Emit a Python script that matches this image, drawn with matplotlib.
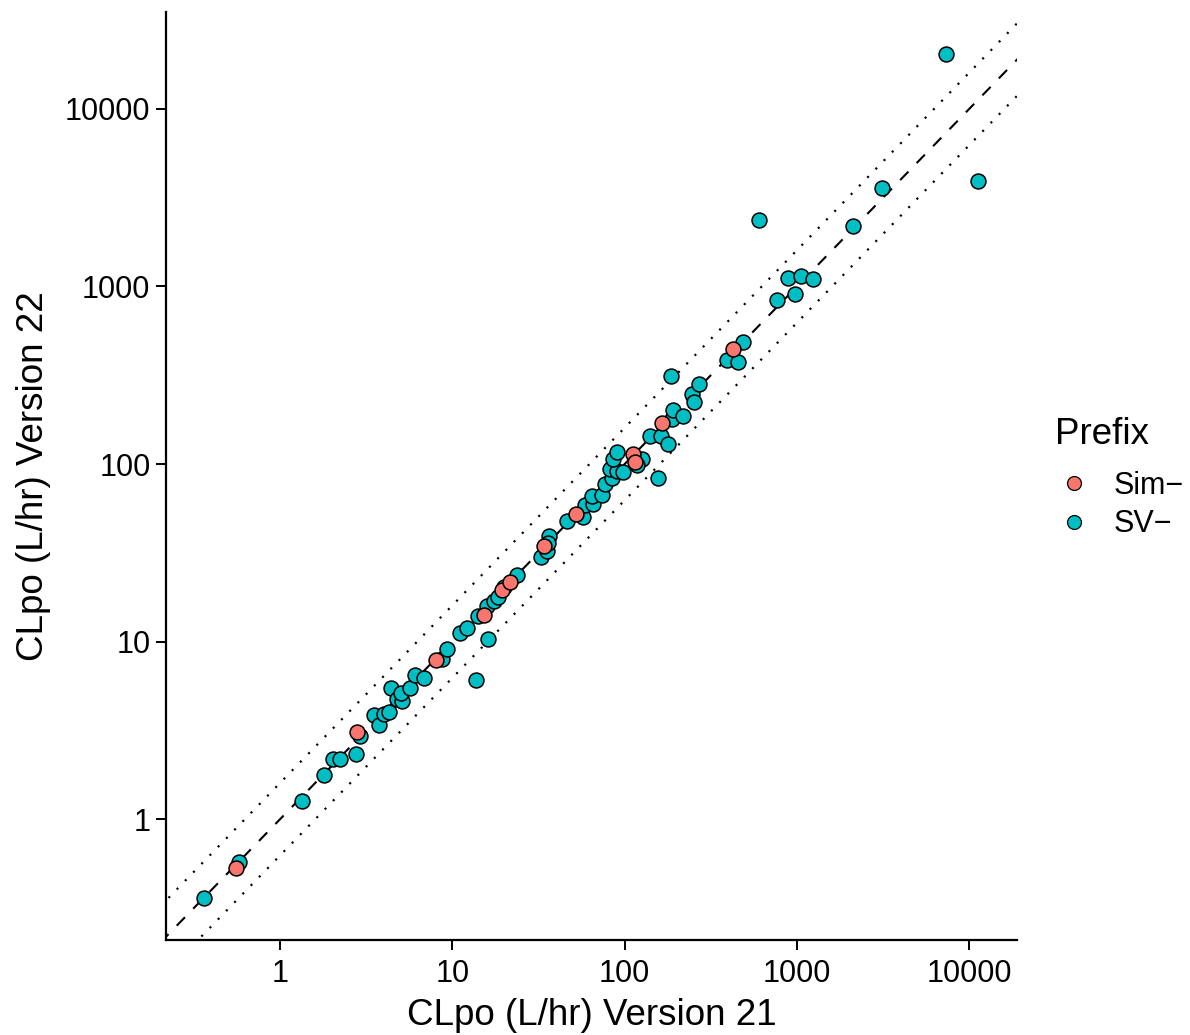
import numpy as np
import matplotlib
matplotlib.use("Agg")
import matplotlib.pyplot as plt
from matplotlib.lines import Line2D

plt.rcParams['font.family'] = ['Liberation Sans', 'DejaVu Sans']
plt.rcParams['lines.scale_dashes'] = False

# ---- data ----
sv_v21 = [0.364, 0.578, 1.333, 1.789, 2.039, 2.229, 2.772, 2.912, 3.513, 3.770,
          3.988, 4.292, 4.408, 4.776, 5.125, 5.038, 5.644, 6.041, 6.870, 8.68,
          9.28, 11.01, 12.12, 13.67, 14.05, 15.84, 16.05, 17.34, 18.30, 19.83,
          23.89, 32.72, 35.45, 36.41, 35.93, 46.0, 57.6, 58.9, 65.8, 64.4,
          73.9, 76.9, 84.2, 82.3, 90.0, 98.3, 86.0, 90.0, 125.7, 118.0,
          156.9, 140.4, 162.7, 179.3, 187.7, 190.2, 219.1, 185.2, 245.2, 252.9,
          271.4, 391.4, 453.3, 488.6, 605.1, 763.5, 891.6, 975.0, 1056, 1235,
          2125, 3106, 7305, 11290]
sv_v22 = [0.361, 0.578, 1.269, 1.784, 2.194, 2.194, 2.316, 2.954, 3.842, 3.393,
          3.928, 4.031, 5.478, 4.739, 4.647, 5.155, 5.486, 6.465, 6.219, 8.00,
          9.11, 11.21, 11.96, 6.12, 13.91, 15.83, 10.37, 16.85, 17.86, 20.24,
          23.74, 29.85, 32.51, 39.49, 35.93, 47.9, 50.3, 59.1, 59.5, 66.3,
          67.3, 77.1, 83.3, 93.6, 91.6, 89.7, 106.5, 116.2, 106.5, 98.6,
          83.1, 144.1, 144.1, 129.4, 178.8, 200.9, 185.9, 313.2, 249.5, 223.7,
          281.3, 385.2, 375.3, 486.3, 2358, 834.2, 1119, 901.6, 1143, 1105,
          2203, 3587, 20330, 3944]
sim_v21 = [0.559, 2.787, 7.99, 15.28, 19.43, 21.62, 34.06, 52.2, 112.3, 114.9, 164.2, 424.0]
sim_v22 = [0.532, 3.100, 7.93, 14.15, 19.55, 21.60, 34.69, 52.5, 113.7, 102.1, 169.8, 442.4]

groups = ["Sim\u2212", "SV\u2212"]
colors = ["#F8766D", "#00BFC4"]
ticks = [1, 10, 100, 1000, 10000]
tick_labels = ["1", "10", "100", "1000", "10000"]
band = 1.6

W, H = 1190, 1035
fig = plt.figure(figsize=(W / 100, H / 100), dpi=100)
ax = fig.add_axes([165.7 / W, 1 - 940 / H, (1017 - 165.7) / W, (940 - 12) / H])

allx = np.log10(sv_v21 + sim_v21)
ally = np.log10(sv_v22 + sim_v22)
def lims(v):
    lo, hi = v.min(), v.max()
    r = hi - lo
    return 10 ** (lo - 0.05 * r), 10 ** (hi + 0.05 * r)
xl = lims(allx)
yl = lims(ally)

ax.set_xscale('log')
ax.set_yscale('log')
ax.set_xlim(*xl)
ax.set_ylim(*yl)

lx = np.array([min(xl[0], yl[0]) / 2, max(xl[1], yl[1]) * 2])
ax.plot(lx, lx, color='black', lw=1.5, ls=(0, (8.5, 8.5)), zorder=1)
ax.plot(lx, lx * band, color='black', lw=1.6, ls=(0, (1.5, 7.0)), zorder=1)
ax.plot(lx, lx / band, color='black', lw=1.6, ls=(0, (1.5, 7.0)), zorder=1)

ms = 115
ax.scatter(sv_v21, sv_v22, s=ms, c=colors[1], edgecolors='black', linewidths=1.1, zorder=3)
ax.scatter(sim_v21, sim_v22, s=ms, c=colors[0], edgecolors='black', linewidths=1.1, zorder=4)

ax.set_xticks(ticks)
ax.set_xticklabels(tick_labels)
ax.set_yticks(ticks)
ax.set_yticklabels(tick_labels)
ax.minorticks_off()
ax.tick_params(axis='both', which='major', length=7, width=1.4, color='black',
               labelsize=22, labelcolor='black', pad=4)
ax.tick_params(axis='x', pad=7)
for s in ['top', 'right']:
    ax.spines[s].set_visible(False)
for s in ['left', 'bottom']:
    ax.spines[s].set_linewidth(1.6)
    ax.spines[s].set_color('black')

ax.set_xlabel("CLpo (L/hr) Version 21", fontsize=26.5, labelpad=6)
ax.set_ylabel("CLpo (L/hr) Version 22", fontsize=26.5, labelpad=10)

handles = [Line2D([], [], marker='o', ls='', markersize=10, markerfacecolor=c,
                  markeredgecolor='black', markeredgewidth=0.9) for c in colors]
leg = fig.legend(handles, groups, title="Prefix", loc='center left',
                 bbox_to_anchor=(1043 / W, 1 - 478 / H), frameon=False,
                 fontsize=22, title_fontsize=26.5, handletextpad=0.7,
                 labelspacing=0.28, handlelength=1.2, borderaxespad=0)
leg._legend_box.align = "left"
leg._legend_box.sep = 14

fig.savefig("out.png", dpi=100)
